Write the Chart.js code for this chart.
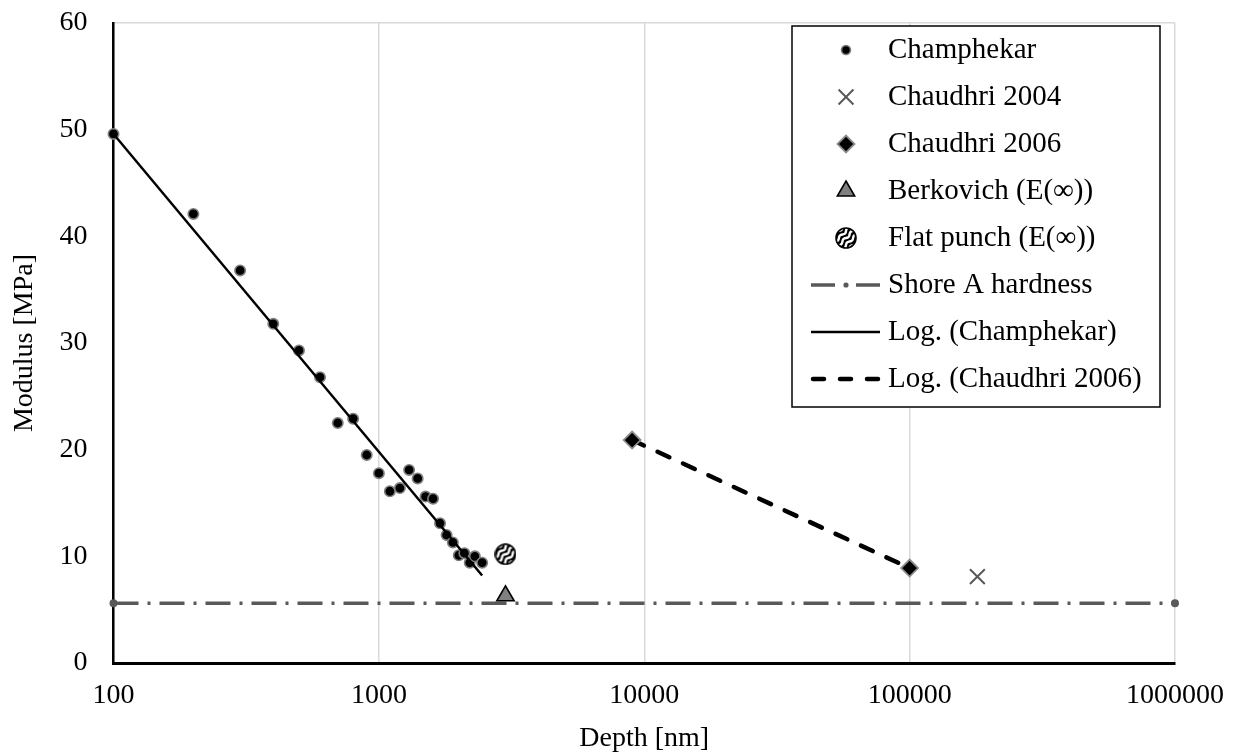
<!DOCTYPE html>
<html>
<head>
<meta charset="utf-8">
<script src="https://cdn.jsdelivr.net/npm/chart.js@4/dist/chart.umd.min.js"></script>
<style>
    html, body { margin: 0; padding: 0; background: #fff; }
    #wrap { width: 1243px; height: 756px; }
</style>
</head>
<body>
<div id="wrap"><canvas id="modulusChart" width="1243" height="756"></canvas></div>
<script>
// depth [nm] / modulus [MPa]
const champDepth = [100, 200, 300, 400, 500, 600, 700, 800, 900, 1000, 1100, 1200,
    1300, 1400, 1500, 1600, 1700, 1800, 1900, 2000, 2100, 2200, 2300, 2450];
const champModulus = [49.6, 42.1, 36.8, 31.8, 29.3, 26.8, 22.5, 22.9, 19.5, 17.8, 16.1, 16.4,
    18.1, 17.3, 15.6, 15.4, 13.1, 12.0, 11.3, 10.1, 10.3, 9.4, 10.0, 9.4];

const chaudhri2004Depth = [180000];
const chaudhri2004Modulus = [8.1];

const chaudhri2006Depth = [9000, 100000];
const chaudhri2006Modulus = [20.9, 8.9];

const berkovichDepth = [3000];
const berkovichModulus = [6.3];

const flatPunchDepth = [3000];
const flatPunchModulus = [10.2];

const shoreDepth = [100, 1000000];
const shoreModulus = [5.6, 5.6];

const logChampDepth = [100, 2450];
const logChampModulus = [49.6, 8.2];

const logChaudhriDepth = [9000, 100000];
const logChaudhriModulus = [20.9, 8.9];

const depthTicks = [100, 1000, 10000, 100000, 1000000];
const modulusTicks = [0, 10, 20, 30, 40, 50, 60];

const FONT = '"Liberation Serif", "Times New Roman", serif';

function toPoints(xs, ys) {
    return xs.map((x, i) => ({ x: x, y: ys[i] }));
}

// hatched circle used for the flat punch marker
function makeHatchCircle(size) {
    const c = document.createElement('canvas');
    c.width = size;
    c.height = size;
    const g = c.getContext('2d');
    const r = size / 2 - 1;
    g.beginPath();
    g.arc(size / 2, size / 2, r, 0, Math.PI * 2);
    g.fillStyle = '#000';
    g.fill();
    g.save();
    g.clip();
    g.strokeStyle = '#fff';
    g.lineWidth = 2.4;
    for (let k = -2; k <= 2; k++) {
        g.beginPath();
        const off = k * size / 4.4;
        for (let t = -size; t <= size; t += 1) {
            const wave = Math.sin(t / 1.6) * 1.1;
            const px = size / 2 + t * 0.707 + (off + wave) * 0.707;
            const py = size / 2 - t * 0.707 + (off + wave) * 0.707;
            if (t === -size) g.moveTo(px, py); else g.lineTo(px, py);
        }
        g.stroke();
    }
    g.restore();
    g.beginPath();
    g.arc(size / 2, size / 2, r, 0, Math.PI * 2);
    g.strokeStyle = '#000';
    g.lineWidth = 1.6;
    g.stroke();
    return c;
}

const hatch = makeHatchCircle(22);

const datasets = [
    {
        label: 'Champhekar',
        data: toPoints(champDepth, champModulus),
        pointStyle: 'circle',
        pointRadius: 5.2,
        backgroundColor: '#000',
        borderColor: '#7f7f7f',
        borderWidth: 1.6,
        showLine: false,
        clip: false,
        order: 2
    },
    {
        label: 'Chaudhri 2004',
        data: toPoints(chaudhri2004Depth, chaudhri2004Modulus),
        pointStyle: 'crossRot',
        pointRadius: 10.5,
        backgroundColor: '#595959',
        borderColor: '#595959',
        borderWidth: 2,
        showLine: false,
        clip: false,
        order: 2
    },
    {
        label: 'Chaudhri 2006',
        data: toPoints(chaudhri2006Depth, chaudhri2006Modulus),
        pointStyle: 'rectRot',
        pointRadius: 8.5,
        backgroundColor: '#000',
        borderColor: '#8c8c8c',
        borderWidth: 1.8,
        showLine: false,
        clip: false,
        order: 2
    },
    {
        label: 'Berkovich (E(\u221E))',
        data: toPoints(berkovichDepth, berkovichModulus),
        pointStyle: 'triangle',
        pointRadius: 10,
        backgroundColor: '#808080',
        borderColor: '#000',
        borderWidth: 1.6,
        showLine: false,
        clip: false,
        order: 2
    },
    {
        label: 'Flat punch (E(\u221E))',
        data: toPoints(flatPunchDepth, flatPunchModulus),
        pointStyle: hatch,
        pointRadius: 11,
        showLine: false,
        clip: false,
        order: 2
    },
    {
        label: 'Shore A hardness',
        data: toPoints(shoreDepth, shoreModulus),
        showLine: true,
        borderColor: '#595959',
        backgroundColor: '#595959',
        borderWidth: 3.5,
        borderDash: [25, 9, 3, 9],
        pointStyle: 'circle',
        pointRadius: 4,
        pointBorderWidth: 0,
        clip: false,
        order: 5
    },
    {
        label: 'Log. (Champhekar)',
        data: toPoints(logChampDepth, logChampModulus),
        showLine: true,
        borderColor: '#000',
        borderWidth: 2.5,
        pointRadius: 0,
        order: 1
    },
    {
        label: 'Log. (Chaudhri 2006)',
        data: toPoints(logChaudhriDepth, logChaudhriModulus),
        showLine: true,
        borderColor: '#000',
        borderWidth: 4.5,
        borderDash: [13, 15],
        borderCapStyle: 'round',
        pointRadius: 0,
        order: 3
    }
];

// dash patterns used for the short legend samples
const legendDash = {
    'Shore A hardness': [24, 9, 3, 9],
    'Log. (Chaudhri 2006)': [11, 16]
};

// legend drawn inside the plot, excel style
const boxLegend = {
    id: 'boxLegend',
    afterDraw(chart) {
        const ctx = chart.ctx;
        const left = 792, top = 26, right = 1160, bottom = 407;
        ctx.save();
        ctx.fillStyle = '#fff';
        ctx.fillRect(left, top, right - left, bottom - top);
        ctx.strokeStyle = '#000';
        ctx.lineWidth = 1.5;
        ctx.strokeRect(left, top, right - left, bottom - top);

        const markX = 846, textX = 888;
        const rowTop = 50, rowStep = 47;
        ctx.font = '29px ' + FONT;
        ctx.textBaseline = 'middle';
        ctx.textAlign = 'left';
        chart.data.datasets.forEach((ds, i) => {
            const y = rowTop + i * rowStep;
            if (ds.showLine) {
                ctx.save();
                ctx.strokeStyle = ds.borderColor;
                ctx.lineWidth = ds.borderWidth;
                ctx.lineCap = ds.borderCapStyle || 'butt';
                if (legendDash[ds.label]) ctx.setLineDash(legendDash[ds.label]);
                ctx.beginPath();
                ctx.moveTo(ds.borderCapStyle === 'round' ? 813 : 811, y);
                ctx.lineTo(880, y);
                ctx.stroke();
                ctx.restore();
                if (ds.pointRadius > 0) {
                    ctx.fillStyle = ds.backgroundColor;
                    ctx.beginPath();
                    ctx.arc(markX, y, 2.6, 0, Math.PI * 2);
                    ctx.fill();
                }
            } else {
                ctx.save();
                ctx.fillStyle = ds.backgroundColor || '#000';
                ctx.strokeStyle = ds.borderColor || '#000';
                ctx.lineWidth = ds.borderWidth || 1;
                const r = ds.pointStyle === 'circle' ? 4.5 : ds.pointRadius;
                Chart.helpers.drawPoint(ctx, {
                    pointStyle: ds.pointStyle, radius: r, borderWidth: ds.borderWidth || 0
                }, markX, y);
                ctx.restore();
            }
            ctx.fillStyle = '#000';
            ctx.fillText(ds.label, textX, y);
        });
        ctx.restore();
    }
};

const ctx = document.getElementById('modulusChart').getContext('2d');
const modulusChart = new Chart(ctx, {
    type: 'scatter',
    data: { datasets: datasets },
    options: {
        responsive: false,
        animation: false,
        layout: { padding: { top: 23, right: 68, left: 0, bottom: 0 } },
        plugins: {
            legend: { display: false },
            tooltip: { enabled: false }
        },
        scales: {
            x: {
                type: 'logarithmic',
                min: 100,
                max: 1000000,
                afterBuildTicks: scale => {
                    scale.ticks = depthTicks.map(v => ({ value: v }));
                },
                afterFit: scale => {
                    scale.height = 93;
                    scale.paddingLeft = 0;
                    scale.paddingRight = 0;
                },
                ticks: {
                    autoSkip: false,
                    maxRotation: 0,
                    padding: 16,
                    color: '#000',
                    font: { family: FONT, size: 28 },
                    callback: v => String(v)
                },
                grid: { color: '#d9d9d9', lineWidth: 1.5, drawTicks: false },
                border: { color: '#000', width: 3 },
                title: {
                    display: true,
                    text: 'Depth [nm]',
                    color: '#000',
                    font: { family: FONT, size: 28 },
                    padding: { top: 0, bottom: 1 }
                }
            },
            y: {
                min: 0,
                max: 60,
                afterBuildTicks: scale => {
                    scale.ticks = modulusTicks.map(v => ({ value: v }));
                },
                afterFit: scale => {
                    scale.width = 113.5;
                    scale.paddingTop = 0;
                    scale.paddingBottom = 0;
                },
                ticks: {
                    padding: 26,
                    color: '#000',
                    font: { family: FONT, size: 28 }
                },
                grid: {
                    drawTicks: false,
                    lineWidth: 1.5,
                    color: c => (c.tick && c.tick.value === 60 ? '#d9d9d9' : 'rgba(0,0,0,0)')
                },
                border: { color: '#000', width: 2.5 },
                title: {
                    display: true,
                    text: 'Modulus [MPa]',
                    color: '#000',
                    font: { family: FONT, size: 28 },
                    padding: { top: 8, bottom: 0 }
                }
            }
        }
    },
    plugins: [boxLegend]
});
</script>
</body>
</html>
